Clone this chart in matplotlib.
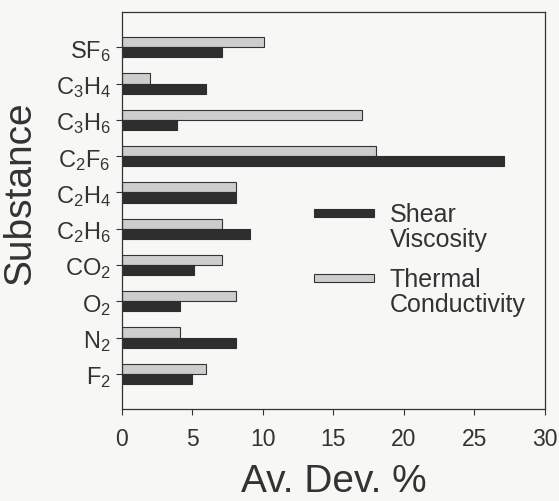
import matplotlib
matplotlib.use("Agg")
import matplotlib.pyplot as plt
import numpy as np
from matplotlib.patches import Rectangle

plt.rcParams["font.family"] = ["Liberation Sans", "DejaVu Sans"]
plt.rcParams["mathtext.fontset"] = "custom"
plt.rcParams["mathtext.rm"] = "Liberation Sans"
plt.rcParams["mathtext.default"] = "regular"

# substances listed bottom -> top
substances = [r"F$_2$", r"N$_2$", r"O$_2$", r"CO$_2$", r"C$_2$H$_6$",
              r"C$_2$H$_4$", r"C$_2$F$_6$", r"C$_3$H$_6$", r"C$_3$H$_4$", r"SF$_6$"]
shear_visc = [5.0, 8.1, 4.1, 5.1, 9.1, 8.1, 27.1, 3.9, 6.0, 7.1]
thermal_cond = [6.0, 4.1, 8.1, 7.1, 7.1, 8.1, 18.0, 17.0, 2.0, 10.1]
xticks = [0, 5, 10, 15, 20, 25, 30]
series_names = ["Shear\nViscosity", "Thermal\nConductivity"]

ink = "#333333"
dark = "#2e2e2e"
light = "#cdcdcd"
paper = "#f7f7f5"

fig = plt.figure(figsize=(5.59, 5.02), dpi=100, facecolor=paper)
ax = fig.add_axes([0.218, 0.183, 0.757, 0.791], facecolor=paper)

y = np.arange(len(substances))
h = 0.28
ax.barh(y + h / 2, thermal_cond, height=h, color=light, edgecolor=ink, linewidth=0.8)
ax.barh(y - h / 2, shear_visc, height=h, color=dark, edgecolor=dark, linewidth=0.8)

ax.set_xlim(0, 30)
ax.set_ylim(-0.97, 9.97)
ax.set_xticks(xticks)
ax.set_xticklabels([str(t) for t in xticks], fontsize=16.5, color=ink)
ax.set_yticks(y)
ax.set_yticklabels(substances, fontsize=17, color=ink)
ax.tick_params(axis="both", direction="out", length=4, width=0.8, colors=ink, pad=4)
ax.tick_params(axis="x", pad=9)
for s in ax.spines.values():
    s.set_color(ink)
    s.set_linewidth(0.9)

ax.set_xlabel("Av. Dev. %", fontsize=28, color=ink, labelpad=9)
ax.set_ylabel("Substance", fontsize=28, color=ink)
ax.yaxis.set_label_coords(-0.197, 0.547)

# hand-built key: swatch sits level with the first line of each label
keys = [(dark, dark, 0.484, 0.522), (light, ink, 0.320, 0.358)]
for (fc, ec, ybar, ytxt), name in zip(keys, series_names):
    ax.add_patch(Rectangle((0.455, ybar), 0.142, 0.021, transform=ax.transAxes,
                           facecolor=fc, edgecolor=ec, linewidth=0.8))
    ax.text(0.633, ytxt, name, transform=ax.transAxes, fontsize=18, color=ink,
            va="top", ha="left", linespacing=1.05)

fig.savefig("out.png", dpi=100, facecolor=paper)
